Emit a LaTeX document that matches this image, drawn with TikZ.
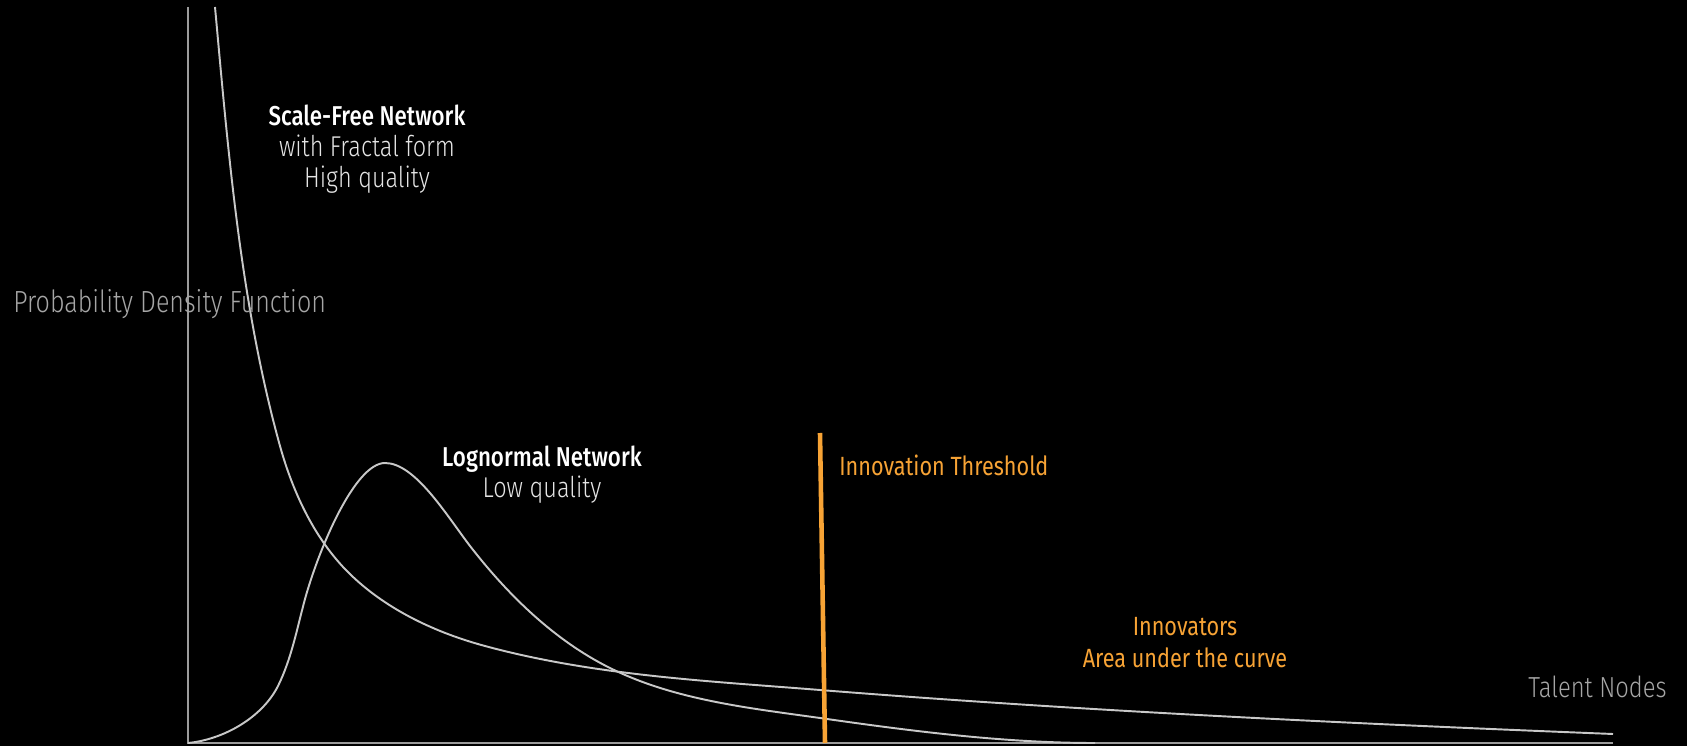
\documentclass[tikz,border=0pt]{standalone}
\usepackage{fontspec}
\IfFontExistsTF{Fira Sans Light}{\newfontfamily\thinfont{Fira Sans Light}[FakeStretch=0.82]}{\newfontfamily\thinfont{Fira Sans}[FakeStretch=0.82]}
\IfFontExistsTF{Fira Sans Medium}{\newfontfamily\headfont{Fira Sans Medium}[FakeStretch=0.82]}{\newfontfamily\headfont{Fira Sans}[FakeStretch=0.82]}
\newfontfamily\plainfont{Fira Sans}[FakeStretch=0.82]
\usepackage{tikz}
\usetikzlibrary{calc}

\definecolor{axisgrey}{HTML}{9C9C9C}
\definecolor{curvegrey}{HTML}{C8C8C8}
\definecolor{labelgrey}{HTML}{A6A6A6}
\definecolor{threshorange}{HTML}{F7A335}

\tikzset{
    axisline/.style={draw=axisgrey, line width=1.1pt},
    densitycurve/.style={draw=curvegrey, line width=1.1pt},
    axlabel/.style={text=labelgrey, font=\thinfont\fontsize{16.5}{19}\selectfont, inner sep=0pt},
    netname/.style={text=white, font=\headfont\fontsize{15.5}{18}\selectfont, inner sep=0pt, anchor=base},
    netnote/.style={text=white!90!black, font=\thinfont\fontsize{16.3}{19}\selectfont, inner sep=0pt, anchor=base},
    orangetext/.style={text=threshorange, font=\plainfont\fontsize{15}{18}\selectfont, inner sep=0pt},
}

\begin{document}
\begin{tikzpicture}
    \fill[black] (0,0) rectangle (33.74,14.92);

    \coordinate (O) at (3.76,0.06);
    \coordinate (Ytop) at (3.76,14.78);
    \coordinate (Xend) at (32.26,0.06);
    \coordinate (T1) at (16.40,6.26);
    \coordinate (T2) at (16.50,0.06);

    \draw [axisline] (Ytop) -- (O) -- (Xend);

    % scale-free (power law) curve
    \draw [densitycurve] (4.30,14.78) .. controls (4.57,11.83) and (4.81,8.85) .. (5.60,6.00)
        .. controls (5.865,5.046) and (6.32,4.08) .. (7.04,3.40)
        .. controls (7.765,2.71) and (8.735,2.26) .. (9.70,2.00)
        .. controls (11.87,1.41) and (14.16,1.30) .. (16.40,1.12)
        .. controls (21.67,0.70) and (26.97,0.45) .. (32.26,0.24);

    % lognormal curve
    \draw [densitycurve] (O) .. controls (4.47,0.13) and (5.24,0.565) .. (5.56,1.20)
        .. controls (5.83,1.745) and (5.94,2.35) .. (6.10,2.94)
        .. controls (6.38,3.95) and (7.10,5.66) .. (7.70,5.66)
        .. controls (8.30,5.66) and (8.92,4.63) .. (9.40,4.00)
        .. controls (10.16,3.02) and (11.09,2.11) .. (12.20,1.56)
        .. controls (13.49,0.92) and (14.97,0.76) .. (16.40,0.56)
        .. controls (18.22,0.30) and (20.06,0.06) .. (21.90,0.06);

    \draw [draw=threshorange, line width=2.6pt] (T1) -- (T2);

    \node (PDF) at (0.26,8.66) [axlabel, anchor=base west, font=\thinfont\fontsize{17.4}{20}\selectfont] {Probability Density Function};
    \node (TN) at (33.34,0.98) [axlabel, anchor=base east] {Talent Nodes};

    \node (SF) at (7.34,12.40) [netname] {Scale-Free Network};
    \node (SF2) at (7.34,11.78) [netnote] {with Fractal form};
    \node (SF3) at (7.34,11.16) [netnote] {High quality};

    \node (LN) at (10.84,5.58) [netname] {Lognormal Network};
    \node (LN2) at (10.84,4.96) [netnote] {Low quality};

    \node (IT) at (16.78,5.40) [orangetext, anchor=base west] {Innovation Threshold};
    \node (IN) at (23.70,2.20) [orangetext, anchor=base] {Innovators};
    \node (IN2) at (23.70,1.58) [orangetext, anchor=base] {Area under the curve};
\end{tikzpicture}
\end{document}
